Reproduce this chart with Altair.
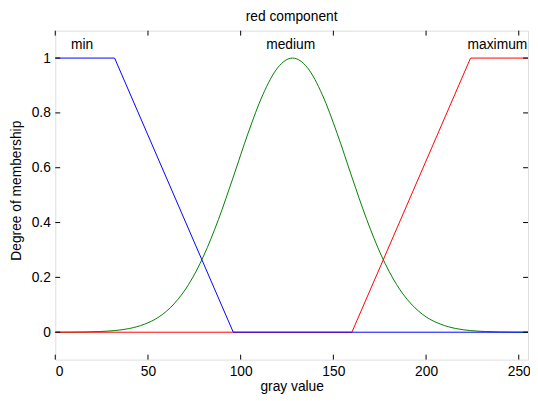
import altair as alt
import pandas as pd

# membership function readings
min_x = [0, 32, 96, 255]
min_y = [1, 1, 0, 0]

max_x = [0, 160, 224, 255]
max_y = [0, 0, 1, 1]

med_x = [0, 8, 16, 24, 32, 40, 48, 56, 64, 72, 80, 88, 96, 104, 112, 120, 128,
         136, 144, 152, 160, 168, 176, 184, 192, 200, 208, 216, 224, 232, 240, 248, 255]
med_y = [0.0001, 0.0003, 0.0009, 0.0025, 0.006, 0.0135, 0.029, 0.056, 0.103, 0.175,
         0.278, 0.411, 0.566, 0.726, 0.867, 0.965, 1.0,
         0.965, 0.867, 0.726, 0.566, 0.411, 0.278, 0.175, 0.103, 0.056, 0.029, 0.0135,
         0.006, 0.0025, 0.0009, 0.0003, 0.0001]

label_text = ["min", "medium", "maximum"]
label_x = [14.5, 127, 238.5]
label_y = [1.046, 1.046, 1.046]

x_ticks = [0, 50, 100, 150, 200, 250]
y_ticks = [0, 0.2, 0.4, 0.6, 0.8, 1]

FONT = "Liberation Sans"
FS = 14
W, H = 480, 334
TL = 5

xscale = alt.Scale(domain=[0, 255], nice=False, zero=False)
yscale = alt.Scale(domain=[-0.1, 1.1], nice=False, zero=False)

xaxis = alt.Axis(values=x_ticks, tickSize=0, domain=False, grid=False, labelPadding=5,
                 title="gray value", titlePadding=1, labelFont=FONT, labelFontSize=FS,
                 titleFont=FONT, titleFontSize=FS, titleFontWeight="normal",
                 labelColor="black", titleColor="black")
yaxis = alt.Axis(values=y_ticks, format="~g", tickSize=0, domain=False, grid=False,
                 labelPadding=5, title="Degree of membership", titlePadding=8,
                 labelFont=FONT, labelFontSize=FS, titleFont=FONT, titleFontSize=FS,
                 titleFontWeight="normal", labelColor="black", titleColor="black",
                 titleY=162)

df_min = pd.DataFrame({"x": min_x, "y": min_y})
df_max = pd.DataFrame({"x": max_x, "y": max_y})
df_med = pd.DataFrame({"x": med_x, "y": med_y})
df_lab = pd.DataFrame({"t": label_text, "x": label_x, "y": label_y})
df_xt = pd.DataFrame({"v": x_ticks})
df_yt = pd.DataFrame({"v": y_ticks})

med = alt.Chart(df_med).mark_line(color="#008000", strokeWidth=1, interpolate="monotone").encode(
    x=alt.X("x:Q", scale=xscale, axis=xaxis),
    y=alt.Y("y:Q", scale=yscale, axis=yaxis),
)
mx = alt.Chart(df_max).mark_line(color="#ff0000", strokeWidth=1).encode(
    x=alt.X("x:Q", scale=xscale), y=alt.Y("y:Q", scale=yscale))
mn = alt.Chart(df_min).mark_line(color="#0000ff", strokeWidth=1).encode(
    x=alt.X("x:Q", scale=xscale), y=alt.Y("y:Q", scale=yscale))

labels = alt.Chart(df_lab).mark_text(font=FONT, fontSize=FS, color="black",
                                     align="center", baseline="middle").encode(
    x=alt.X("x:Q", scale=xscale), y=alt.Y("y:Q", scale=yscale), text="t:N")

xt_top = alt.Chart(df_xt).mark_rule(color="black", strokeWidth=1).encode(
    x=alt.X("v:Q", scale=xscale), y=alt.value(0), y2=alt.value(TL))
xt_bot = alt.Chart(df_xt).mark_rule(color="black", strokeWidth=1).encode(
    x=alt.X("v:Q", scale=xscale), y=alt.value(H - TL), y2=alt.value(H))
yt_left = alt.Chart(df_yt).mark_rule(color="black", strokeWidth=1).encode(
    y=alt.Y("v:Q", scale=yscale), x=alt.value(0), x2=alt.value(TL))
yt_right = alt.Chart(df_yt).mark_rule(color="black", strokeWidth=1).encode(
    y=alt.Y("v:Q", scale=yscale), x=alt.value(W - TL), x2=alt.value(W))

chart = alt.layer(med, mx, mn, labels, xt_top, xt_bot, yt_left, yt_right).properties(
    width=W, height=H,
    title=alt.TitleParams("red component", font=FONT, fontSize=FS, fontWeight="normal",
                          color="black", anchor="middle", offset=6),
    autosize=alt.AutoSizeParams(type="none"),
    padding={"left": 48, "top": 20, "right": 2, "bottom": 39},
).configure_view(stroke="black", strokeWidth=1).configure(background="white")

chart.save("out.html", embed_options={"renderer": "svg", "actions": False})
